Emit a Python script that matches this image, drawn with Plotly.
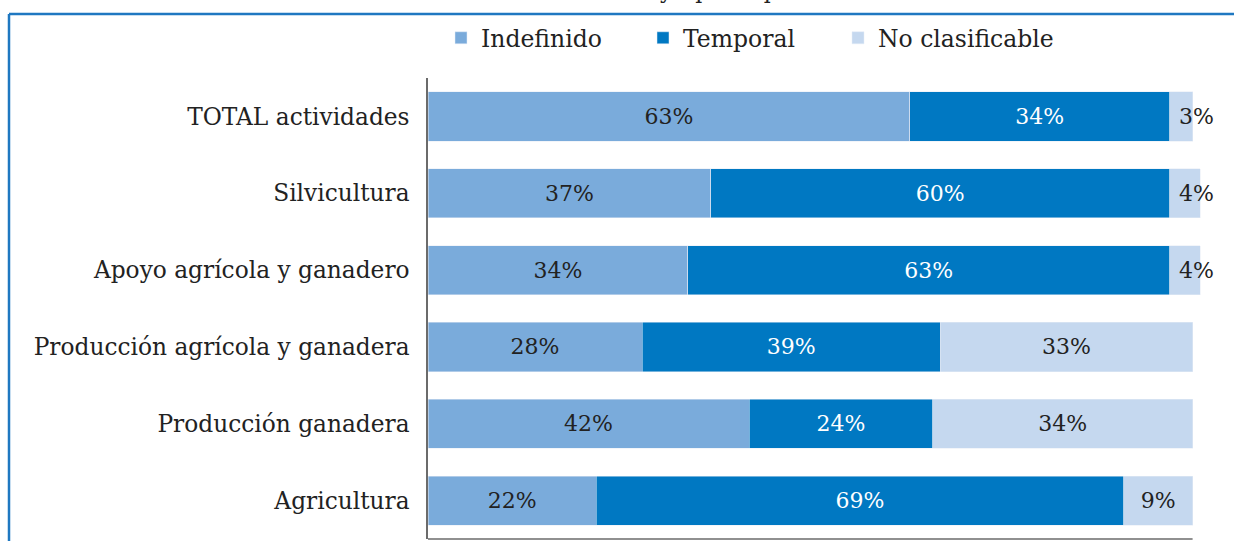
import plotly.graph_objects as go

categories = [
    "TOTAL actividades",
    "Silvicultura",
    "Apoyo agrícola y ganadero",
    "Producción agrícola y ganadera",
    "Producción ganadera",
    "Agricultura",
]
indefinido = [63, 37, 34, 28, 42, 22]
temporal = [34, 60, 63, 39, 24, 69]
no_clasificable = [3, 4, 4, 33, 34, 9]

FONT = "DejaVu Serif"
W, H = 1234, 541
ML, MR, MT, MB = 428, 33, 78, 2
PW, PH = W - ML - MR, H - MT - MB


def px(x):
    return (x - ML) / PW


def py(y):
    return (H - MB - y) / PH


def pct(vals):
    return [f"{v}%" for v in vals]


fig = go.Figure()

fig.add_trace(go.Bar(
    y=categories, x=indefinido, name="Indefinido", orientation="h",
    marker_color="#7aabdb", text=pct(indefinido), textposition="inside",
    insidetextanchor="middle", textangle=0, legend="legend",
    textfont=dict(color="#222222", size=22, family=FONT),
))
fig.add_trace(go.Bar(
    y=categories, x=temporal, name="Temporal", orientation="h",
    marker_color="#0078c2", text=pct(temporal), textposition="inside",
    insidetextanchor="middle", textangle=0, legend="legend2",
    textfont=dict(color="#ffffff", size=22, family=FONT),
))
# small slices get their label as an annotation so it can overflow the bar
big_text = [f"{v}%" if v >= 8 else "" for v in no_clasificable]
fig.add_trace(go.Bar(
    y=categories, x=no_clasificable, name="No clasificable", orientation="h",
    marker_color="#c5d8ef", text=big_text, textposition="inside",
    insidetextanchor="middle", textangle=0, legend="legend3",
    textfont=dict(color="#222222", size=22, family=FONT),
))

for cat, a, b, c in zip(categories, indefinido, temporal, no_clasificable):
    if c < 8:
        fig.add_annotation(
            x=a + b, y=cat, text=f"{c}%", showarrow=False,
            xanchor="left", xshift=7,
            font=dict(color="#222222", size=22, family=FONT),
        )

# bottom axis line (only up to 100%)
fig.add_shape(type="line", xref="x", yref="paper", x0=0, x1=100, y0=0, y1=0,
              line=dict(color="#6b6b6b", width=1.5))
# outer frame of the figure box
fig.add_shape(type="line", xref="paper", yref="paper",
              x0=px(9), x1=px(1240), y0=py(14), y1=py(14),
              line=dict(color="#1f78c1", width=2.5))
fig.add_shape(type="line", xref="paper", yref="paper",
              x0=px(9), x1=px(9), y0=py(14), y1=py(545),
              line=dict(color="#1f78c1", width=2.5))

# title, cut off at the top of the image (only descenders show)
title_font = dict(size=22, family=FONT, color="#222222")
fig.add_annotation(
    text="Distribución de la afiliación en cada actividad",
    xref="paper", yref="paper", x=px(654), y=py(5), xanchor="right",
    yanchor="bottom", showarrow=False, font=title_font,
)
fig.add_annotation(
    text="y tipo de puesto",
    xref="paper", yref="paper", x=px(657), y=py(5), xanchor="left",
    yanchor="bottom", showarrow=False, font=title_font,
)

legend_common = dict(orientation="h", y=py(38), xanchor="left",
                     yanchor="middle", font=dict(size=23.5, family=FONT),
                     bgcolor="rgba(0,0,0,0)")

fig.update_layout(
    width=W, height=H,
    margin=dict(l=ML, r=MR, t=MT, b=MB),
    barmode="stack", bargap=0.36,
    plot_bgcolor="white", paper_bgcolor="white",
    font=dict(family=FONT, size=23.3, color="#222222"),
    showlegend=True,
    legend=dict(x=px(441), **legend_common),
    legend2=dict(x=px(643), **legend_common),
    legend3=dict(x=px(838), **legend_common),
    xaxis=dict(range=[0, 101.1], showticklabels=False, showgrid=False,
               zeroline=False, showline=False),
    yaxis=dict(autorange="reversed", showline=True, linecolor="#6b6b6b",
               linewidth=1.5, ticks="", ticklabelstandoff=12),
)

fig.write_html("out.html", config={"displayModeBar": False},
               post_script="document.body.style.margin='0';")
